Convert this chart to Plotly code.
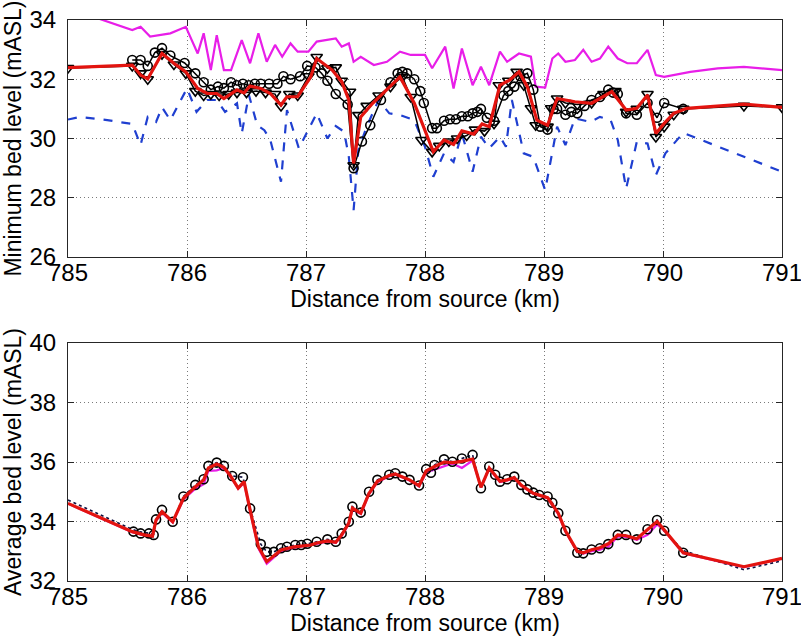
import plotly.graph_objects as go

# ---------------- Top panel data (minimum bed level) ----------------
mag_top_x = [785.0, 785.54, 785.61, 785.69, 785.86, 785.99, 786.09, 786.14, 786.20, 786.25, 786.31, 786.37,
             786.46, 786.53, 786.60, 786.67, 786.74, 786.80, 786.87, 786.93, 787.02, 787.09, 787.25, 787.30,
             787.36, 787.40, 787.46, 787.57, 787.68, 787.79, 787.88, 788.00, 788.06, 788.17, 788.24, 788.31,
             788.40, 788.47, 788.54, 788.63, 788.69, 788.79, 788.89, 788.93, 789.01, 789.07, 789.12, 789.18,
             789.26, 789.33, 789.40, 789.47, 789.54, 789.62, 789.70, 789.78, 789.87, 789.94, 790.01, 790.23,
             790.46, 790.68, 791.0]
mag_top_y = [34.4, 33.66, 33.77, 33.44, 33.55, 33.77, 32.87, 33.55, 32.31, 33.49, 32.31, 32.31,
             33.32, 32.54, 33.55, 32.59, 33.16, 32.76, 33.21, 32.93, 32.93, 33.27, 33.38, 33.10,
             33.21, 32.59, 32.76, 32.48, 32.59, 32.93, 32.82, 32.82, 32.37, 33.10, 31.69, 33.04,
             31.80, 32.42, 31.80, 32.93, 32.59, 32.87, 32.76, 31.75, 31.72, 32.70, 32.87, 32.59,
             32.65, 32.99, 32.59, 32.70, 33.10, 32.70, 32.54, 32.54, 32.99, 32.14, 32.08, 32.25,
             32.37, 32.42, 32.31]

blue_top_x = [785.0, 785.10, 785.33, 785.54, 785.61, 785.67, 785.74, 785.79, 785.86, 786.00, 786.08, 786.17,
              786.25, 786.32, 786.42, 786.46, 786.52, 786.59, 786.65, 786.70, 786.79, 786.84, 786.94, 787.09,
              787.18, 787.25, 787.32, 787.36, 787.40, 787.44, 787.51, 787.61, 787.70, 787.79, 787.91, 788.00,
              788.07, 788.16, 788.24, 788.31, 788.40, 788.47, 788.54, 788.63, 788.68, 788.73, 788.83, 788.91,
              789.01, 789.11, 789.18, 789.26, 789.39, 789.47, 789.56, 789.62, 789.69, 789.78, 789.87, 789.94,
              790.02, 790.17, 791.0]
blue_top_y = [30.64, 30.73, 30.62, 30.49, 29.78, 30.73, 30.56, 31.05, 30.62, 31.69, 30.90, 31.30,
              31.30, 30.90, 31.19, 30.17, 31.47, 30.45, 30.28, 29.95, 28.54, 30.96, 29.67, 30.85,
              30.00, 30.42, 30.23, 29.38, 27.58, 29.61, 30.40, 31.30, 30.85, 30.79, 30.62, 29.72,
              28.71, 29.50, 29.21, 30.17, 28.88, 30.06, 29.67, 30.06, 29.72, 31.30, 29.50, 29.38,
              28.26, 30.40, 29.78, 30.68, 30.56, 30.73, 30.62, 29.95, 28.31, 29.89, 29.83, 28.76,
              29.50, 30.19, 28.88]

circ_top_x = [785.54, 785.61, 785.67, 785.73, 785.79, 785.86, 785.98, 786.07, 786.14, 786.20, 786.26, 786.31,
              786.37, 786.42, 786.47, 786.52, 786.57, 786.62, 786.69, 786.76, 786.81, 786.87, 786.95, 787.01,
              787.08, 787.13, 787.18, 787.25, 787.35, 787.40, 787.47, 787.54, 787.63, 787.71, 787.77, 787.81,
              787.85, 787.91, 787.96, 787.99, 788.06, 788.10, 788.16, 788.21, 788.26, 788.31, 788.36, 788.40,
              788.44, 788.47, 788.52, 788.58, 788.66, 788.70, 788.75, 788.80, 788.86, 788.91, 788.97, 789.03,
              789.08, 789.11, 789.18, 789.23, 789.28, 789.34, 789.40, 789.47, 789.54, 789.58, 789.62, 789.69,
              789.78, 789.87, 789.95, 790.01, 790.17]
circ_top_y = [32.65, 32.65, 32.45, 32.90, 33.05, 32.80, 32.55, 32.20, 31.90, 31.65, 31.75, 31.70,
              31.90, 31.80, 31.85, 31.80, 31.85, 31.85, 31.85, 31.85, 32.10, 32.00, 32.10, 32.45,
              32.40, 32.20, 31.95, 31.50, 31.15, 29.00, 29.90, 30.45, 31.30, 31.90, 32.20, 32.25,
              32.20, 32.00, 31.60, 31.20, 30.35, 30.35, 30.60, 30.65, 30.65, 30.75, 30.75, 30.85,
              30.90, 31.00, 30.70, 30.60, 31.45, 31.60, 31.75, 32.10, 32.20, 31.65, 30.40, 30.30,
              31.00, 31.00, 30.80, 30.90, 30.85, 31.10, 31.30, 31.40, 31.65, 31.55, 31.50, 30.85,
              30.80, 31.20, 30.70, 31.20, 31.00]

tri_top_x = [785.0, 785.54, 785.61, 785.67, 785.79, 785.89, 785.99, 786.07, 786.14, 786.20, 786.27, 786.35,
             786.42, 786.50, 786.58, 786.66, 786.74, 786.79, 786.86, 786.93, 787.02, 787.09, 787.18, 787.25,
             787.30, 787.37, 787.40, 787.44, 787.51, 787.61, 787.71, 787.81, 787.88, 787.97, 788.06, 788.12,
             788.20, 788.27, 788.35, 788.42, 788.50, 788.58, 788.62, 788.70, 788.77, 788.83, 788.89, 788.93,
             789.03, 789.06, 789.11, 789.18, 789.28, 789.40, 789.50, 789.60, 789.69, 789.78, 789.87, 789.94,
             790.01, 790.09, 790.17, 790.68, 791.0]
tri_top_y = [32.38, 32.45, 32.20, 32.00, 32.85, 32.50, 32.20, 31.60, 31.45, 31.50, 31.45, 31.50,
             31.55, 31.55, 31.60, 31.55, 31.50, 31.10, 31.50, 31.45, 32.10, 32.75, 32.37, 32.40,
             31.95, 31.58, 29.10, 30.79, 31.10, 31.45, 31.75, 32.08, 31.40, 29.95, 29.55, 29.75,
             29.90, 30.00, 30.10, 30.30, 30.25, 30.50, 31.80, 31.95, 32.25, 31.80, 31.02, 30.45,
             30.40, 31.02, 31.35, 31.20, 31.15, 31.20, 31.50, 31.60, 30.90, 31.00, 31.50, 30.05,
             30.40, 30.80, 31.00, 31.10, 31.05]

red_top_x = [785.0, 785.54, 785.61, 785.67, 785.79, 785.89, 785.99, 786.09, 786.17, 786.25, 786.31, 786.37,
             786.42, 786.48, 786.53, 786.62, 786.70, 786.79, 786.84, 786.93, 787.04, 787.09, 787.22, 787.30,
             787.36, 787.40, 787.46, 787.56, 787.79, 787.91, 788.07, 788.16, 788.24, 788.31, 788.41, 788.48,
             788.54, 788.63, 788.71, 788.79, 788.86, 788.94, 789.03, 789.11, 789.26, 789.40, 789.57, 789.69,
             789.78, 789.87, 789.94, 790.01, 790.09, 790.20, 790.68, 791.0]
red_top_y = [32.39, 32.48, 32.14, 32.01, 32.87, 32.54, 32.25, 31.69, 31.52, 31.52, 31.35, 31.52,
             31.64, 31.54, 31.77, 31.69, 31.52, 31.13, 31.41, 31.41, 32.08, 32.70, 32.31, 31.92,
             31.30, 29.16, 30.73, 31.19, 32.08, 31.19, 29.55, 29.95, 29.80, 30.26, 30.15, 30.49,
             30.40, 31.80, 31.97, 32.25, 31.75, 30.62, 30.45, 31.35, 31.24, 31.19, 31.58, 30.96,
             31.02, 31.47, 30.17, 30.51, 30.85, 31.02, 31.16, 31.05]

# ---------------- Bottom panel data (average bed level) ----------------
circ_bot_x = [785.55, 785.61, 785.68, 785.72, 785.74, 785.79, 785.88, 785.97, 786.07, 786.14, 786.18, 786.25,
              786.31, 786.38, 786.47, 786.53, 786.62, 786.67, 786.73, 786.79, 786.84, 786.91, 786.96, 787.01,
              787.09, 787.18, 787.25, 787.30, 787.36, 787.39, 787.46, 787.53, 787.60, 787.70, 787.75, 787.81,
              787.87, 787.95, 788.01, 788.05, 788.08, 788.16, 788.23, 788.31, 788.40, 788.47, 788.54, 788.59,
              788.63, 788.69, 788.75, 788.81, 788.86, 788.91, 788.96, 789.03, 789.07, 789.12, 789.18, 789.28,
              789.33, 789.40, 789.47, 789.54, 789.62, 789.69, 789.78, 789.87, 789.95, 790.01, 790.17]
circ_bot_y = [33.66, 33.60, 33.60, 33.55, 34.07, 34.39, 33.99, 34.84, 35.23, 35.42, 35.87, 35.98,
              35.87, 35.53, 35.49, 34.44, 33.24, 32.98, 32.98, 33.10, 33.15, 33.21, 33.21, 33.25,
              33.32, 33.40, 33.32, 33.60, 33.99, 34.50, 34.30, 35.00, 35.40, 35.57, 35.62, 35.51,
              35.40, 35.21, 35.76, 35.64, 35.90, 36.09, 36.01, 36.12, 36.24, 35.12, 35.85, 35.57,
              35.34, 35.42, 35.51, 35.23, 35.08, 34.97, 34.89, 34.84, 34.63, 34.28, 33.69, 32.95,
              32.93, 33.06, 33.10, 33.24, 33.55, 33.55, 33.40, 33.74, 34.05, 33.69, 32.95]

dot_bot_x = [785.0, 785.55, 785.61, 785.68, 785.72, 785.74, 785.79, 785.88, 785.97, 786.07, 786.14, 786.18,
             786.25, 786.31, 786.38, 786.47, 786.53, 786.62, 786.67, 786.73, 786.79, 786.84, 786.91, 787.01,
             787.09, 787.18, 787.25, 787.30, 787.36, 787.39, 787.46, 787.53, 787.60, 787.70, 787.75, 787.81,
             787.87, 787.95, 788.01, 788.05, 788.08, 788.16, 788.23, 788.31, 788.40, 788.47, 788.54, 788.59,
             788.63, 788.69, 788.75, 788.81, 788.86, 788.91, 788.96, 789.03, 789.07, 789.12, 789.18, 789.28,
             789.33, 789.40, 789.47, 789.54, 789.62, 789.69, 789.78, 789.87, 789.95, 790.01, 790.17, 790.68,
             791.0]
dot_bot_y = [34.72, 33.72, 33.65, 33.62, 33.58, 34.07, 34.39, 33.99, 34.84, 35.23, 35.42, 35.87,
             35.98, 35.87, 35.53, 35.49, 34.44, 33.24, 32.98, 32.98, 33.10, 33.15, 33.21, 33.25,
             33.32, 33.40, 33.32, 33.60, 33.99, 34.50, 34.30, 35.00, 35.40, 35.57, 35.62, 35.51,
             35.40, 35.21, 35.76, 35.64, 35.90, 36.09, 36.01, 36.12, 36.24, 35.12, 35.85, 35.57,
             35.34, 35.42, 35.51, 35.23, 35.08, 34.97, 34.89, 34.84, 34.63, 34.28, 33.69, 32.95,
             32.93, 33.06, 33.10, 33.24, 33.55, 33.55, 33.40, 33.74, 34.05, 33.69, 33.02, 32.38,
             32.68]

red_bot_x = [785.0, 785.54, 785.64, 785.71, 785.74, 785.79, 785.88, 785.97, 786.07, 786.14, 786.18, 786.25,
             786.31, 786.37, 786.43, 786.48, 786.53, 786.60, 786.67, 786.79, 786.90, 787.04, 787.09, 787.18,
             787.25, 787.30, 787.36, 787.39, 787.46, 787.53, 787.60, 787.70, 787.75, 787.87, 787.95, 788.01,
             788.08, 788.16, 788.23, 788.31, 788.40, 788.47, 788.54, 788.59, 788.63, 788.69, 788.75, 788.81,
             788.91, 789.03, 789.12, 789.18, 789.28, 789.33, 789.40, 789.47, 789.54, 789.62, 789.69, 789.78,
             789.87, 789.95, 790.01, 790.17, 790.68, 791.0]
red_bot_y = [34.61, 33.66, 33.55, 33.51, 34.05, 34.33, 33.99, 34.78, 35.17, 35.40, 35.80, 35.93,
             35.82, 35.51, 35.12, 35.34, 34.39, 33.15, 32.65, 33.04, 33.15, 33.21, 33.28, 33.35,
             33.30, 33.55, 33.95, 34.45, 34.28, 34.95, 35.35, 35.55, 35.60, 35.40, 35.20, 35.70,
             35.85, 36.00, 35.98, 36.02, 36.10, 35.15, 35.80, 35.55, 35.35, 35.40, 35.48, 35.22,
             34.95, 34.80, 34.28, 33.69, 33.00, 32.95, 33.05, 33.12, 33.25, 33.55, 33.52, 33.42,
             33.72, 34.00, 33.72, 32.95, 32.48, 32.76]

mag_bot_x = [785.0, 785.54, 785.64, 785.71, 785.74, 785.79, 785.88, 785.97, 786.07, 786.14, 786.18, 786.25,
             786.31, 786.37, 786.43, 786.48, 786.53, 786.60, 786.67, 786.79, 786.90, 787.04, 787.09, 787.18,
             787.25, 787.30, 787.36, 787.39, 787.46, 787.53, 787.60, 787.70, 787.75, 787.87, 787.95, 788.01,
             788.08, 788.16, 788.23, 788.31, 788.40, 788.47, 788.54, 788.59, 788.63, 788.69, 788.75, 788.81,
             788.91, 789.03, 789.12, 789.18, 789.28, 789.33, 789.40, 789.47, 789.54, 789.62, 789.69, 789.78,
             789.87, 789.95, 790.01, 790.17, 790.68, 791.0]
mag_bot_y = [34.60, 33.64, 33.53, 33.50, 34.02, 34.30, 33.97, 34.74, 35.10, 35.25, 35.70, 35.72,
             35.80, 35.48, 35.10, 35.30, 34.35, 33.10, 32.58, 33.00, 33.12, 33.20, 33.25, 33.33,
             33.28, 33.52, 33.92, 34.40, 34.25, 34.92, 35.32, 35.52, 35.58, 35.38, 35.18, 35.65,
             35.75, 35.85, 35.95, 35.80, 36.05, 35.15, 35.78, 35.52, 35.33, 35.38, 35.45, 35.20,
             34.93, 34.78, 34.25, 33.66, 32.98, 32.92, 33.00, 33.05, 33.15, 33.50, 33.48, 33.38,
             33.55, 33.90, 33.70, 32.93, 32.47, 32.75]

top_yticks = [26, 28, 30, 32, 34]
bot_yticks = [32, 34, 36, 38, 40]
xticks = [785, 786, 787, 788, 789, 790, 791]

FONT = "Arial, Liberation Sans, Helvetica, sans-serif"

fig = go.Figure()

# top
fig.add_trace(go.Scatter(x=mag_top_x, y=mag_top_y, mode="lines",
                         line=dict(color="#e81ee8", width=2.2), xaxis="x", yaxis="y"))
fig.add_trace(go.Scatter(x=blue_top_x, y=blue_top_y, mode="lines",
                         line=dict(color="#1f3fd0", width=2.2, dash="dash"), xaxis="x", yaxis="y"))
fig.add_trace(go.Scatter(x=circ_top_x, y=circ_top_y, mode="lines+markers",
                         line=dict(color="black", width=1.5),
                         marker=dict(symbol="circle-open", size=9, color="black", line=dict(width=1.6)),
                         xaxis="x", yaxis="y"))
fig.add_trace(go.Scatter(x=tri_top_x, y=tri_top_y, mode="lines+markers",
                         line=dict(color="black", width=1.5),
                         marker=dict(symbol="triangle-down-open", size=10, color="black", line=dict(width=1.6)),
                         xaxis="x", yaxis="y"))
fig.add_trace(go.Scatter(x=red_top_x, y=red_top_y, mode="lines",
                         line=dict(color="#e3140f", width=3.2), xaxis="x", yaxis="y"))

# bottom
fig.add_trace(go.Scatter(x=mag_bot_x, y=mag_bot_y, mode="lines",
                         line=dict(color="#e81ee8", width=2.2), xaxis="x2", yaxis="y2"))
fig.add_trace(go.Scatter(x=dot_bot_x, y=dot_bot_y, mode="lines",
                         line=dict(color="#101040", width=1.6, dash="dot"), xaxis="x2", yaxis="y2"))
fig.add_trace(go.Scatter(x=circ_bot_x, y=circ_bot_y, mode="markers",
                         marker=dict(symbol="circle-open", size=9, color="black", line=dict(width=1.6)),
                         xaxis="x2", yaxis="y2"))
fig.add_trace(go.Scatter(x=red_bot_x, y=red_bot_y, mode="lines",
                         line=dict(color="#e3140f", width=3.2), xaxis="x2", yaxis="y2"))

axis_common = dict(
    showline=True, linecolor="#262626", linewidth=1, mirror="allticks",
    ticks="inside", ticklen=6, tickcolor="#262626",
    showgrid=True, gridcolor="#7a7a7a", gridwidth=1, griddash="1px,3px",
    zeroline=False, tickfont=dict(family=FONT, size=24, color="black"),
    automargin=False, ticklabeloverflow="allow",
)
xax = dict(axis_common, ticklabelstandoff=-6)
yax = dict(axis_common, ticklabelstandoff=6)

fig.update_layout(
    width=801, height=640,
    margin=dict(l=68, r=19, t=20, b=59),
    paper_bgcolor="white", plot_bgcolor="white",
    showlegend=False,
    font=dict(family=FONT, color="black"),
    xaxis=dict(xax, domain=[0, 1], range=[785, 791], tickvals=xticks, anchor="y",
               title=dict(text="Distance from source (km)", font=dict(family=FONT, size=23), standoff=2)),
    yaxis=dict(yax, domain=[0.5775, 1], range=[26, 34], tickvals=top_yticks, anchor="x",
               title=dict(text="Minimum bed level (mASL)", font=dict(family=FONT, size=23), standoff=4)),
    xaxis2=dict(xax, domain=[0, 1], range=[785, 791], tickvals=xticks, anchor="y2",
                title=dict(text="Distance from source (km)", font=dict(family=FONT, size=23), standoff=2)),
    yaxis2=dict(yax, domain=[0, 0.4242], range=[32, 40], tickvals=bot_yticks, anchor="x2",
                title=dict(text="Average bed level (mASL)", font=dict(family=FONT, size=23), standoff=4)),
)

fig.write_html("out.html", config={"displayModeBar": False},
               post_script="document.body.style.margin='0';document.body.style.overflow='hidden';")
